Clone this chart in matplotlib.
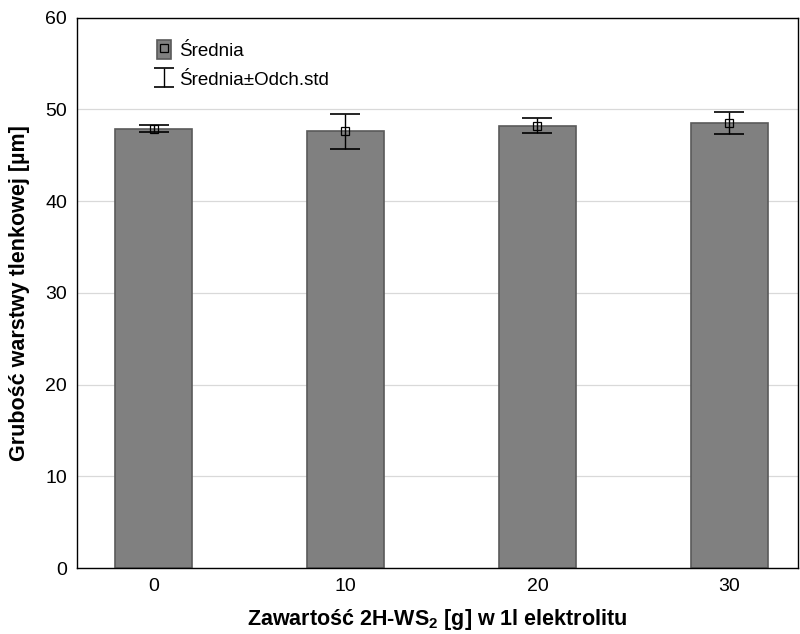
import matplotlib
matplotlib.use("Agg")
import matplotlib.pyplot as plt
from matplotlib.patches import Patch

plt.rcParams["font.family"] = ["Liberation Sans", "DejaVu Sans"]

# ---- dane ----
zawartosc = [0, 10, 20, 30]
srednia = [47.9, 47.6, 48.25, 48.55]
odch_std = [0.4, 1.95, 0.8, 1.2]

BAR, EDGE = "#808080", "#5a5a5a"

fig = plt.figure(figsize=(8, 6.34), dpi=100)
ax = fig.add_axes([0.096, 0.104, 0.902, 0.868])

bars = ax.bar(zawartosc, srednia, width=4.0, color=BAR, edgecolor=EDGE, lw=1.2, zorder=2)
eb = ax.errorbar(zawartosc, srednia, yerr=odch_std, fmt="none", ecolor="black",
                 elinewidth=1, capsize=10.5, capthick=1.2, zorder=3)
mk, = ax.plot(zawartosc, srednia, "s", ms=6, mfc="none", mec="black", mew=0.9,
              ls="none", zorder=4)
# uchwyt legendy z mniejszymi "wąsami" (niewidoczny na wykresie)
eb_leg = ax.errorbar([float("nan")], [float("nan")], yerr=[1], fmt="none", ecolor="black",
                     elinewidth=1, capsize=7, capthick=1.2)

ax.set_xlim(-4.0, 33.6)
ax.set_ylim(0, 60)
ax.set_xticks(zawartosc)
ax.set_yticks(range(0, 61, 10))
ax.grid(True, axis="y", color="#d9d9d9", lw=0.9)
ax.set_axisbelow(True)
ax.tick_params(direction="in", length=3, labelsize=14, color="#555555")
ax.tick_params(axis="y", length=0, pad=7)
ax.tick_params(axis="x", pad=7)
for s in ax.spines.values():
    s.set_color("black")
    s.set_linewidth(1)

ax.set_xlabel("Zawartość 2H-WS$_\\mathregular{2}$ [g] w 1l elektrolitu",
              fontsize=15.5, fontweight="bold", labelpad=9)
ax.set_ylabel("Grubość warstwy tlenkowej [µm]", fontsize=15.5, fontweight="bold", labelpad=11)

sq = Patch(facecolor=BAR, edgecolor=EDGE, lw=1.2)
lg = ax.legend([(sq, mk), eb_leg], ["Średnia", "Średnia±Odch.std"],
               loc="upper left", bbox_to_anchor=(0.101, 0.973), frameon=False,
               fontsize=13.5, handlelength=0.75, handleheight=1.2,
               handletextpad=0.4, labelspacing=0.5, borderaxespad=0)

fig.savefig("out.png", dpi=100, facecolor="white")
